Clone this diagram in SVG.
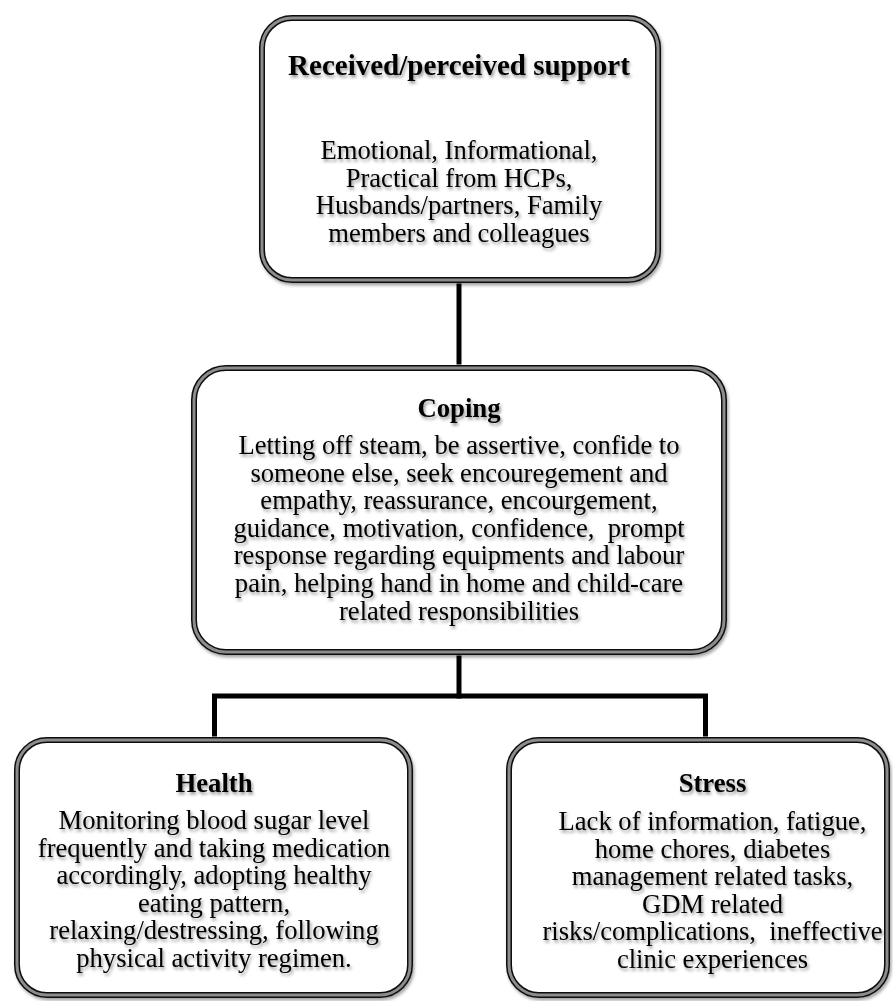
<svg xmlns="http://www.w3.org/2000/svg" width="893" height="1001" viewBox="0 0 893 1001">
  <defs>
    <filter id="soft" x="-10%" y="-10%" width="130%" height="130%">
      <feDropShadow dx="1.5" dy="2.5" stdDeviation="1.6" flood-color="#000" flood-opacity="0.42"/>
    </filter>
    <filter id="boxshadow" x="-5%" y="-5%" width="115%" height="115%">
      <feDropShadow dx="1.5" dy="2.5" stdDeviation="1.8" flood-color="#000" flood-opacity="0.35"/>
    </filter>
  </defs>
  <style>
    .frame-outer { fill: #ffffff; stroke: #111; stroke-width: 6; }
    .frame-inner { fill: none; stroke: #8c8c8c; stroke-width: 3; }
    .t { font-family: "Liberation Serif", "Times New Roman", serif; fill: #000; text-anchor: middle; filter: url(#soft); }
    .head { font-size: 26.7px; font-weight: bold; }
    .body { font-size: 26.6px; }
    .wire { fill: none; stroke: #000; stroke-width: 5; stroke-linecap: square; stroke-linejoin: miter; }
  </style>
  <rect width="893" height="1001" fill="#ffffff"/>

  <!-- connectors -->
  <g id="connectors">
    <line class="wire" x1="459" y1="286" x2="459" y2="362"/>
    <line class="wire" x1="459" y1="658" x2="459" y2="696"/>
    <polyline class="wire" points="214.5,734 214.5,696 705.5,696 705.5,734"/>
  </g>

  <!-- received / perceived support -->
  <g id="support">
    <g filter="url(#boxshadow)">
      <rect class="frame-outer" x="262" y="18" width="396" height="262" rx="30" ry="30"/>
    </g>
    <rect class="frame-inner" x="262" y="18" width="396" height="262" rx="30" ry="30"/>
    <text class="t head" x="459" y="75" style="font-size:29px">Received/perceived support</text>
    <text class="t body" x="459" y="159">Emotional, Informational,</text>
    <text class="t body" x="459" y="186.5">Practical from HCPs,</text>
    <text class="t body" x="459" y="214">Husbands/partners, Family</text>
    <text class="t body" x="459" y="241.5">members and colleagues</text>
  </g>

  <!-- coping -->
  <g id="coping">
    <g filter="url(#boxshadow)">
      <rect class="frame-outer" x="194" y="368" width="530" height="284" rx="32" ry="32"/>
    </g>
    <rect class="frame-inner" x="194" y="368" width="530" height="284" rx="32" ry="32"/>
    <text class="t head" x="459" y="417">Coping</text>
    <text class="t body" x="459" y="454">Letting off steam, be assertive, confide to</text>
    <text class="t body" x="459" y="481.6">someone else, seek encouregement and</text>
    <text class="t body" x="459" y="509.2">empathy, reassurance, encourgement,</text>
    <text class="t body" x="459" y="536.8">guidance, motivation, confidence,&#160; prompt</text>
    <text class="t body" x="459" y="564.4">response regarding equipments and labour</text>
    <text class="t body" x="459" y="592">pain, helping hand in home and child-care</text>
    <text class="t body" x="459" y="619.6">related responsibilities</text>
  </g>

  <!-- health -->
  <g id="health">
    <g filter="url(#boxshadow)">
      <rect class="frame-outer" x="17" y="740" width="393" height="255" rx="30" ry="30"/>
    </g>
    <rect class="frame-inner" x="17" y="740" width="393" height="255" rx="30" ry="30"/>
    <text class="t head" x="214" y="792">Health</text>
    <text class="t body" x="214" y="829">Monitoring blood sugar level</text>
    <text class="t body" x="214" y="856.5">frequently and taking medication</text>
    <text class="t body" x="214" y="884">accordingly, adopting healthy</text>
    <text class="t body" x="214" y="911.5">eating pattern,</text>
    <text class="t body" x="214" y="939">relaxing/destressing, following</text>
    <text class="t body" x="214" y="966.5">physical activity regimen.</text>
  </g>

  <!-- stress -->
  <g id="stress">
    <g filter="url(#boxshadow)">
      <rect class="frame-outer" x="509" y="740" width="378" height="255" rx="30" ry="30"/>
    </g>
    <rect class="frame-inner" x="509" y="740" width="378" height="255" rx="30" ry="30"/>
    <text class="t head" x="712.5" y="792">Stress</text>
    <text class="t body" x="712.5" y="830">Lack of information, fatigue,</text>
    <text class="t body" x="712.5" y="857.5">home chores, diabetes</text>
    <text class="t body" x="712.5" y="885">management related tasks,</text>
    <text class="t body" x="712.5" y="912.5">GDM related</text>
    <text class="t body" x="712.5" y="940">risks/complications,&#160; ineffective</text>
    <text class="t body" x="712.5" y="967.5">clinic experiences</text>
  </g>
</svg>
